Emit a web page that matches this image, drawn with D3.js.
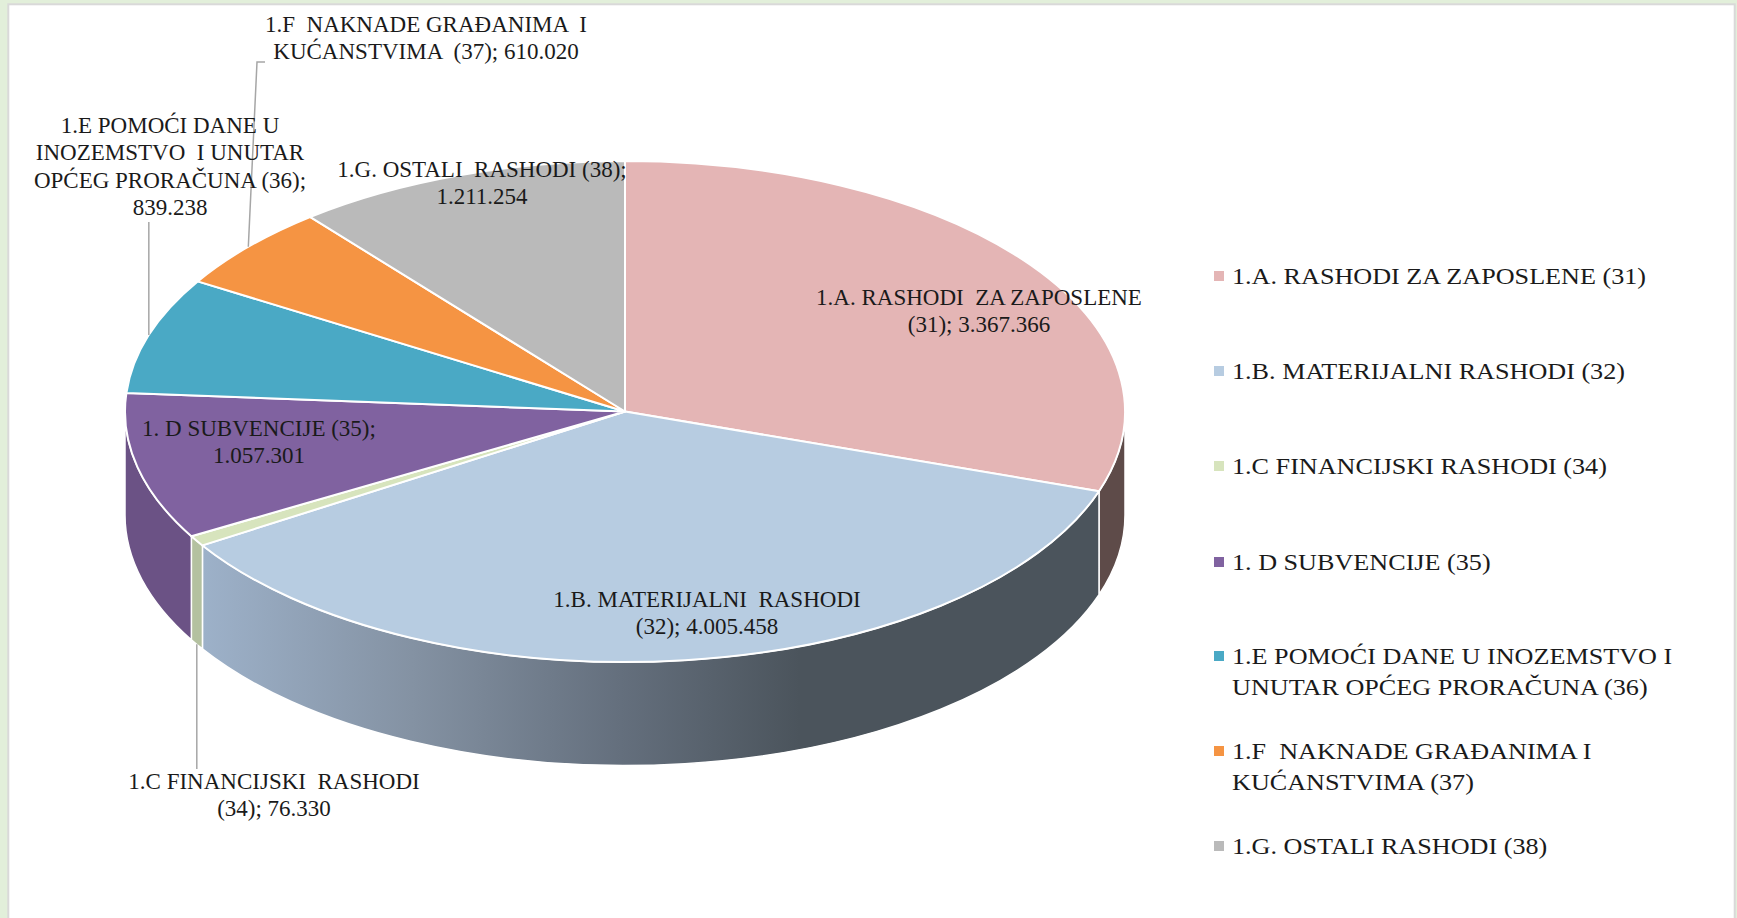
<!DOCTYPE html>
<html>
<head>
<meta charset="utf-8">
<script src="https://cdn.jsdelivr.net/npm/d3@7"></script>
<style>
html, body { margin: 0; padding: 0; background: #e2efda; overflow: hidden; }
svg { display: block; }
text { font-family: "Liberation Serif", serif; fill: #1a1a1a; white-space: pre; }
</style>
</head>
<body>
<svg id="chart" width="1737" height="918"></svg>
<script>
/* DATA */
const categories = [
  "1.A. RASHODI ZA ZAPOSLENE (31)",
  "1.B. MATERIJALNI RASHODI (32)",
  "1.C FINANCIJSKI RASHODI (34)",
  "1. D SUBVENCIJE (35)",
  "1.E POMOĆI DANE U INOZEMSTVO I UNUTAR OPĆEG PRORAČUNA (36)",
  "1.F  NAKNADE GRAĐANIMA I KUĆANSTVIMA (37)",
  "1.G. OSTALI RASHODI (38)"
];
const values = [3367366, 4005458, 76330, 1057301, 839238, 610020, 1211254];
const legendLines = [
  ["1.A. RASHODI ZA ZAPOSLENE (31)"],
  ["1.B. MATERIJALNI RASHODI (32)"],
  ["1.C FINANCIJSKI RASHODI (34)"],
  ["1. D SUBVENCIJE (35)"],
  ["1.E POMOĆI DANE U INOZEMSTVO I", "UNUTAR OPĆEG PRORAČUNA (36)"],
  ["1.F  NAKNADE GRAĐANIMA I", "KUĆANSTVIMA (37)"],
  ["1.G. OSTALI RASHODI (38)"]
];
// data labels, the formatted value goes on the end of the last line
const labelLines = [
  ["1.A. RASHODI  ZA ZAPOSLENE", "(31); "],
  ["1.B. MATERIJALNI  RASHODI", "(32); "],
  ["1.C FINANCIJSKI  RASHODI", "(34); "],
  ["1. D SUBVENCIJE (35);", ""],
  ["1.E POMOĆI DANE U", "INOZEMSTVO  I UNUTAR", "OPĆEG PRORAČUNA (36);", ""],
  ["1.F  NAKNADE GRAĐANIMA  I", "KUĆANSTVIMA  (37); "],
  ["1.G. OSTALI  RASHODI (38);", ""]
];
const topColors = ["#e4b5b5", "#b7cce1", "#d7e4bd", "#8062a0", "#4aa9c5", "#f59443", "#bababa"];
const wallColors = ["#5e4b49", "url(#wallB)", "#b4c1a0", "#6b5285", "#3a8aa1", "#c97a35", "#989898"];

/* LAYOUT */
const svg = d3.select("#chart");
const cx = 625, cy = 411.5, rx = 500, ry = 250.5, depth = 103.5;
const labelPos = [[979, 305], [707, 607], [274, 789], [259, 436], [170, 133], [426, 32], [482, 177]];
const lineH = 27.3;
const fmt = d3.formatLocale({ decimal: ",", thousands: ".", grouping: [3], currency: ["", ""] }).format(",d");

const pie = d3.pie().sort(null).value(d => d);
const slices = pie(values);

const px = t => cx + rx * Math.sin(t);
const py = t => cy - ry * Math.cos(t);

/* FRAME */
svg.append("rect")
  .attr("x", 8.3).attr("y", 4.3)
  .attr("width", 1726.4).attr("height", 930)
  .attr("fill", "#fff")
  .attr("stroke", "#d9d9d9")
  .attr("stroke-width", 2);

/* WALL GRADIENT */
const grad = svg.append("defs").append("linearGradient")
  .attr("id", "wallB")
  .attr("gradientUnits", "userSpaceOnUse")
  .attr("x1", px(slices[1].endAngle)).attr("y1", 0)
  .attr("x2", 800).attr("y2", 0);
grad.append("stop").attr("offset", "0%").attr("stop-color", "#9db1c9");
grad.append("stop").attr("offset", "35%").attr("stop-color", "#8492a3");
grad.append("stop").attr("offset", "70%").attr("stop-color", "#646f7d");
grad.append("stop").attr("offset", "100%").attr("stop-color", "#4b545c");

/* WALLS, only the front half of the rim shows */
const wallPath = d => {
  const t0 = Math.max(d.startAngle, Math.PI / 2);
  const t1 = Math.min(d.endAngle, 3 * Math.PI / 2);
  if (t1 <= t0) return null;
  return `M${px(t0)},${py(t0)}A${rx},${ry} 0 0 1 ${px(t1)},${py(t1)}` +
    `L${px(t1)},${py(t1) + depth}A${rx},${ry} 0 0 0 ${px(t0)},${py(t0) + depth}Z`;
};

svg.append("g").selectAll("path")
  .data(slices)
  .join("path")
  .attr("d", wallPath)
  .attr("fill", (d, i) => wallColors[i])
  .attr("stroke", "#fff")
  .attr("stroke-width", 1.5)
  .attr("stroke-linejoin", "round");

/* TOP FACE */
const arc = d3.arc().innerRadius(0).outerRadius(rx);

svg.append("g")
  .attr("transform", `translate(${cx},${cy}) scale(1,${ry / rx})`)
  .selectAll("path")
  .data(slices)
  .join("path")
  .attr("d", arc)
  .attr("fill", (d, i) => topColors[i])
  .attr("stroke", "#fff")
  .attr("stroke-width", 2)
  .attr("stroke-linejoin", "round")
  .attr("vector-effect", "non-scaling-stroke");

/* LEADER LINES */
const midAngle = d => (d.startAngle + d.endAngle) / 2;
const leader = d3.line();
const leaders = [
  [[px(midAngle(slices[2])), py(midAngle(slices[2])) + depth], [px(midAngle(slices[2])), 769]],
  [[px(midAngle(slices[4])), py(midAngle(slices[4]))], [px(midAngle(slices[4])), 222]],
  [[px(midAngle(slices[5])), py(midAngle(slices[5]))], [257, 62], [265, 62]]
];
svg.append("g").selectAll("path")
  .data(leaders)
  .join("path")
  .attr("d", leader)
  .attr("fill", "none")
  .attr("stroke", "#a6a6a6")
  .attr("stroke-width", 1.5);

/* DATA LABELS */
const labels = svg.append("g").selectAll("text")
  .data(labelLines)
  .join("text")
  .attr("text-anchor", "middle")
  .attr("font-size", 23)
  .attr("transform", (d, i) => `translate(${labelPos[i][0]},${labelPos[i][1]})`);

labels.each(function (lines, i) {
  d3.select(this).selectAll("tspan")
    .data(lines)
    .join("tspan")
    .attr("x", 0)
    .attr("y", (d, j) => j * lineH)
    .text((d, j) => j === lines.length - 1 ? d + fmt(values[i]) : d);
});

/* LEGEND */
const legendY = [276, 371, 466, 562, 656, 751, 846];
const legend = svg.append("g").selectAll("g")
  .data(categories)
  .join("g")
  .attr("transform", (d, i) => `translate(1214,${legendY[i]})`);

legend.append("rect")
  .attr("x", 0).attr("y", -5)
  .attr("width", 10).attr("height", 10)
  .attr("fill", (d, i) => topColors[i]);

// legend glyphs are wider in the picture, same height
legend.each(function (name, i) {
  d3.select(this).selectAll("text")
    .data(legendLines[i])
    .join("text")
    .attr("transform", (d, j) => `translate(18,${8 + j * 31}) scale(1.09,1)`)
    .attr("font-size", 24)
    .text(d => d);
});
</script>
</body>
</html>
